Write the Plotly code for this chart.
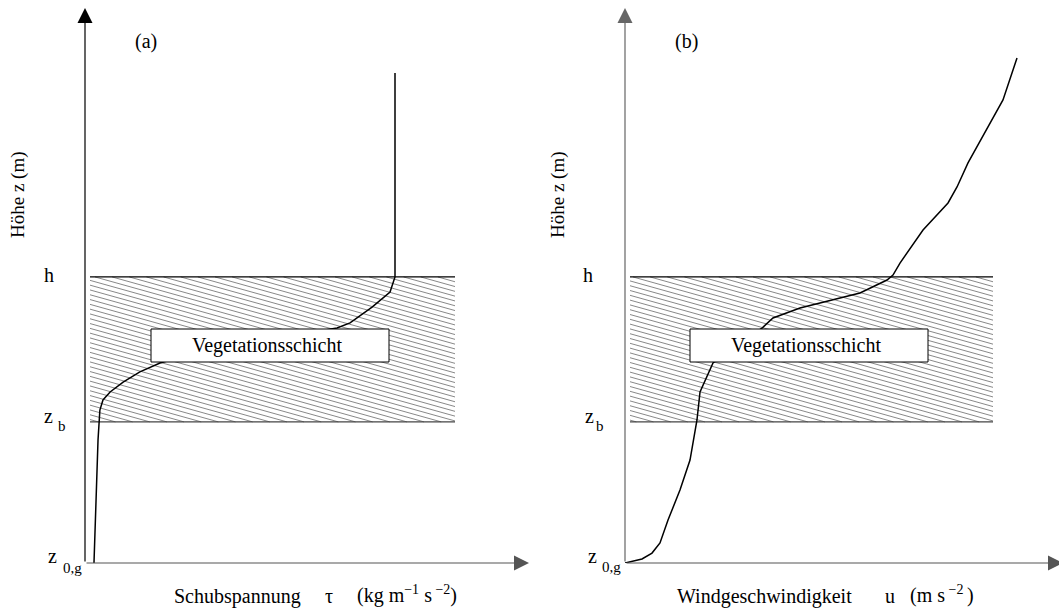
import plotly.graph_objects as go

# ---------------- data ----------------
# panel (a): shear stress profile  tau(z)
tau_values = [0.029, 0.042, 0.048, 0.058, 0.081, 0.123, 0.177, 0.242, 0.371, 0.532,
              0.694, 0.813, 0.855, 0.926, 0.984, 0.994, 1.0, 1.0]
tau_heights = [0.0, 6.45, 8.02, 8.55, 8.97, 9.49, 10.02, 10.49, 11.06, 11.64,
               12.01, 12.32, 12.59, 13.42, 14.21, 14.79, 15.0, 25.69]

# panel (b): wind speed profile  u(z)
u_values = [0.0, 0.347, 0.551, 0.714, 0.878, 1.122, 1.327, 1.469, 1.531, 1.796,
            2.796, 3.020, 3.571, 4.245, 4.796, 5.347, 5.469, 5.612, 6.082, 6.592,
            6.776, 7.0, 7.347, 7.714, 8.0]
u_heights = [0.0, 0.21, 0.52, 1.05, 2.25, 3.83, 5.40, 7.50, 8.97, 10.49,
             12.32, 12.85, 13.37, 13.79, 14.16, 14.84, 15.10, 15.73, 17.46, 18.88,
             19.72, 20.98, 22.55, 24.28, 26.48]

# canopy layer limits (height units)
Z_H = 15.0    # canopy top h
Z_B = 7.4     # base of vegetation z_b

height_labels = ["h", "z", "z"]
height_subs = ["", "b", "0,g"]
panel_labels = ["(a)", "(b)"]
layer_label = "Vegetationsschicht"
y_title = "Höhe z (m)"

# ---------------- layout geometry (pixels) ----------------
W, H = 1059, 610
FONT = "Liberation Serif"

# panel a
A_X0, A_X1 = 85, 529
A_SCALE = 310.0          # px per tau unit
# panel b
B_X0, B_X1 = 625, 1059
B_SCALE = 49.0           # px per u unit
# common vertical
Y0, Y1 = 563, 8
Z_SCALE = 19.07          # px per height unit

def px_to_a(px):
    return None if px is None else (px - A_X0) / A_SCALE

def px_to_b(px):
    return None if px is None else (px - B_X0) / B_SCALE

def py_to_z(py):
    return None if py is None else (Y0 - py) / Z_SCALE

def z_to_py(z):
    return Y0 - z * Z_SCALE

def hatch(xl, xr, yt, yb, slope=0.28, gap=4.8):
    xs, ys = [], []
    c = yt - slope * (xr - xl)
    while c < yb:
        xa = max(xl, xl + (yt - c) / slope)
        xb = min(xr, xl + (yb - c) / slope)
        if xb > xa:
            xs += [xa, xb, None]
            ys += [c + slope * (xa - xl), c + slope * (xb - xl), None]
        c += gap
    return xs, ys

fig = go.Figure()

yt_px, yb_px = z_to_py(Z_H), z_to_py(Z_B)

# hatched canopy layers
for (xl, xr, conv, xa, ya) in [(90, 455, px_to_a, "x", "y"), (630, 993, px_to_b, "x2", "y2")]:
    hx, hy = hatch(xl, xr, yt_px, yb_px)
    fig.add_trace(go.Scatter(x=[conv(v) for v in hx], y=[py_to_z(v) for v in hy],
                             mode="lines", line=dict(color="#6a6a6a", width=0.8),
                             hoverinfo="skip", showlegend=False, xaxis=xa, yaxis=ya))
    fig.add_trace(go.Scatter(x=[conv(xl), conv(xr)], y=[Z_H, Z_H], mode="lines",
                             line=dict(color="black", width=1.2), showlegend=False,
                             xaxis=xa, yaxis=ya))
    fig.add_trace(go.Scatter(x=[conv(xl), conv(xr)], y=[Z_B, Z_B], mode="lines",
                             line=dict(color="#444444", width=1.2), showlegend=False,
                             xaxis=xa, yaxis=ya))

# profiles
fig.add_trace(go.Scatter(x=tau_values, y=tau_heights, mode="lines",
                         line=dict(color="black", width=1.5), showlegend=False,
                         xaxis="x", yaxis="y"))
fig.add_trace(go.Scatter(x=u_values, y=u_heights, mode="lines",
                         line=dict(color="black", width=1.5), showlegend=False,
                         xaxis="x2", yaxis="y2"))

ax_common = dict(showgrid=False, zeroline=False, showticklabels=False,
                 showline=False, ticks="", fixedrange=True)
fig.update_layout(
    width=W, height=H, margin=dict(l=0, r=0, t=0, b=0),
    paper_bgcolor="white", plot_bgcolor="white",
    xaxis=dict(domain=[A_X0 / W, A_X1 / W], range=[0, (A_X1 - A_X0) / A_SCALE], **ax_common),
    yaxis=dict(domain=[1 - Y0 / H, 1 - Y1 / H], range=[0, (Y0 - Y1) / Z_SCALE], **ax_common),
    xaxis2=dict(domain=[B_X0 / W, B_X1 / W], range=[0, (B_X1 - B_X0) / B_SCALE], **ax_common),
    yaxis2=dict(domain=[1 - Y0 / H, 1 - Y1 / H], range=[0, (Y0 - Y1) / Z_SCALE],
                anchor="x2", **ax_common),
    font=dict(family=FONT, color="black"),
)

annotations = []
# axis arrows
ztop = (Y0 - Y1) / Z_SCALE
for (xr, yr, xend, col_y, col_x) in [("x", "y", (A_X1 - A_X0) / A_SCALE, "black", "#555555"),
                                      ("x2", "y2", (1063 - B_X0) / B_SCALE, "#666666", "#555555")]:
    annotations.append(dict(x=0, y=ztop, ax=0, ay=0, xref=xr, yref=yr, axref=xr, ayref=yr,
                            text="", showarrow=True, arrowhead=2, arrowsize=2.5,
                            arrowwidth=1.2, arrowcolor=col_y))
    annotations.append(dict(x=xend, y=0, ax=0, ay=0, xref=xr, yref=yr, axref=xr, ayref=yr,
                            text="", showarrow=True, arrowhead=2, arrowsize=2.5,
                            arrowwidth=1.2, arrowcolor=col_x))

def txt(px, py, text, size=20, **kw):
    d = dict(x=px / W, y=1 - py / H, xref="paper", yref="paper", text=text,
             showarrow=False, xanchor="center", yanchor="middle",
             font=dict(family=FONT, size=size, color="black"))
    d.update(kw)
    annotations.append(d)

# panel labels
txt(146, 41, panel_labels[0], size=20)
txt(686, 41, panel_labels[1], size=20)
# y titles
txt(18, 195, y_title, size=19, textangle=-90)
txt(558, 195, y_title, size=19, textangle=-90)

# height labels
for (hx, zx, sx) in [(49, 48, 62), (588, 589, 600)]:
    txt(hx, 275, height_labels[0])
    txt(zx, 416, height_labels[1])
    txt(sx, 426, height_subs[1], size=15)
txt(52, 556, height_labels[2])
txt(72, 568, height_subs[2], size=15)
txt(592, 556, height_labels[2])
txt(611, 567, height_subs[2], size=15)

# x titles
txt(172, 596, "Schubspannung", xanchor="left")
txt(329, 596, "τ")
txt(355, 594, "(kg m<sup>−1</sup> s<sup> −2</sup>)", xanchor="left")
txt(675, 596, "Windgeschwindigkeit", xanchor="left")
txt(890, 596, "u")
txt(908, 594, "(m s<sup> −2 </sup>)", xanchor="left")

# vegetation layer boxes
shapes = []
for (bl, br) in [(151, 389), (690, 928)]:
    shapes.append(dict(type="rect", xref="paper", yref="paper",
                       x0=bl / W, x1=br / W, y0=1 - 362 / H, y1=1 - 329 / H,
                       fillcolor="white", line=dict(color="black", width=1), layer="above"))
    txt((bl + br) / 2 - 3, 345, layer_label, size=20)

fig.update_layout(annotations=annotations, shapes=shapes)
fig.write_html("out.html",
               config={"displayModeBar": False},
               post_script="document.body.style.margin='0';document.body.style.padding='0';"
                           "document.body.style.overflow='hidden';")
